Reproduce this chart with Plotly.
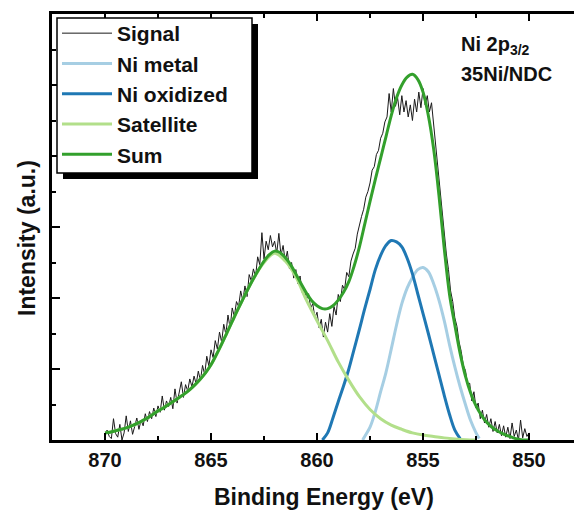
import numpy as np
import plotly.graph_objects as go

# ---------------- data ----------------
# Raw signal, 870.0 -> 850.0 eV in 0.1 eV steps
signal_start, signal_end = 870.0, 850.0
signal = [
    0.08, 0.14, 0.05, 0.02, 0.30, 0.09, 0.04, 0.22, 0.00, 0.10,
    0.34, 0.12, 0.27, 0.08, 0.19, 0.31, 0.15, 0.28, 0.20, 0.37,
    0.26, 0.40, 0.30, 0.45, 0.33, 0.48, 0.39, 0.62, 0.42, 0.55,
    0.47, 0.60, 0.44, 0.72, 0.52, 0.66, 0.82, 0.60, 0.78, 0.69,
    0.86, 0.75, 0.90, 0.79, 0.97, 0.84, 1.05, 0.92, 1.18, 1.04,
    1.27, 1.16, 1.40, 1.28, 1.52, 1.38, 1.63, 1.49, 1.76, 1.58,
    1.86, 1.74, 1.95, 1.88, 2.10, 1.96, 2.17, 2.02, 2.33, 2.24,
    2.41, 2.30, 2.58, 2.47, 2.92, 2.55, 2.80, 2.68, 2.88, 2.72,
    2.80, 2.63, 2.91, 2.60, 2.74, 2.52, 2.66, 2.41, 2.50, 2.28,
    2.40, 2.20, 2.31, 2.08, 2.14, 1.98, 2.06, 1.86, 1.92, 1.72,
    1.80, 1.58, 1.70, 1.45, 1.66, 1.52, 1.78, 1.60, 1.88, 1.76,
    2.05, 1.95, 2.18, 2.12, 2.36, 2.30, 2.52, 2.62, 2.70, 2.90,
    3.05, 3.15, 3.25, 3.42, 3.50, 3.62, 3.80, 3.85, 4.02, 4.08,
    4.25, 4.32, 4.48, 4.55, 4.88, 4.62, 4.95, 4.70, 4.82, 4.58,
    4.85, 4.62, 4.78, 4.55, 4.72, 4.50, 4.80, 4.62, 4.90, 4.68,
    4.95, 4.72, 4.85, 4.62, 4.75, 4.45, 4.12, 3.80, 3.48, 3.20,
    2.95, 2.62, 2.40, 2.10, 1.95, 1.72, 1.60, 1.38, 1.25, 1.05,
    0.98, 0.78, 0.80, 0.55, 0.68, 0.45, 0.52, 0.30, 0.42, 0.24,
    0.36, 0.18, 0.30, 0.12, 0.26, 0.10, 0.22, 0.06, 0.20, 0.04,
    0.18, 0.02, 0.24, 0.05, 0.14, 0.00, 0.28, 0.03, 0.16, 0.05,
    0.10,
]
signal_be = np.linspace(signal_start, signal_end, len(signal))

ni_metal_be = [857.85, 857.75, 857.5, 857.25, 857.0, 856.75, 856.5, 856.25, 856.0,
               855.75, 855.5, 855.25, 855.0, 854.75, 854.5, 854.25, 854.0, 853.75,
               853.5, 853.25, 853.0, 852.75, 852.5, 852.35]
ni_metal = [0.0, 0.05, 0.18, 0.40, 0.68, 0.95, 1.28, 1.62, 1.92,
            2.14, 2.29, 2.40, 2.43, 2.37, 2.20, 1.97, 1.68, 1.34,
            1.03, 0.75, 0.50, 0.27, 0.10, 0.02]

ni_ox_be = [859.75, 859.5, 859.25, 859.0, 858.75, 858.5, 858.25, 858.0, 857.75,
            857.5, 857.25, 857.0, 856.75, 856.5, 856.25, 856.0, 855.75, 855.5,
            855.25, 855.0, 854.75, 854.5, 854.25, 854.0, 853.75, 853.5, 853.25]
ni_ox = [0.0, 0.10, 0.31, 0.54, 0.76, 1.00, 1.28, 1.56, 1.85,
         2.12, 2.40, 2.60, 2.74, 2.81, 2.79, 2.72, 2.56, 2.34,
         2.06, 1.78, 1.50, 1.21, 0.92, 0.63, 0.36, 0.14, 0.02]

sat_be = [870.0, 869.5, 869.0, 868.5, 868.0, 867.5, 867.0, 866.5, 866.0, 865.5,
          865.0, 864.5, 864.0, 863.5, 863.0, 862.5, 862.0, 861.5, 861.0, 860.5,
          860.0, 859.5, 859.0, 858.5, 858.0, 857.5, 857.0, 856.5, 856.0, 855.5,
          855.0, 854.5, 854.0, 853.5, 853.0, 852.5]
satellite = [0.10, 0.13, 0.17, 0.23, 0.31, 0.41, 0.50, 0.60, 0.71, 0.86,
             1.06, 1.35, 1.67, 1.98, 2.27, 2.50, 2.63, 2.52, 2.30, 1.97,
             1.68, 1.40, 1.10, 0.84, 0.61, 0.43, 0.30, 0.21, 0.15, 0.10,
             0.07, 0.05, 0.03, 0.015, 0.005, 0.0]

sum_start, sum_end = 870.0, 850.0
sum_fit = [0.10, 0.11, 0.13, 0.15, 0.17, 0.20, 0.23, 0.27, 0.31, 0.36,
           0.41, 0.45, 0.50, 0.55, 0.60, 0.65, 0.71, 0.78, 0.86, 0.95,
           1.06, 1.20, 1.35, 1.51, 1.67, 1.83, 1.98, 2.13, 2.27, 2.40,
           2.52, 2.61, 2.66, 2.64, 2.57, 2.47, 2.34, 2.20, 2.07, 1.96,
           1.89, 1.85, 1.85, 1.89, 1.97, 2.08, 2.23, 2.45, 2.72, 3.04,
           3.36, 3.67, 3.97, 4.27, 4.57, 4.82, 5.00, 5.11, 5.15, 5.08,
           4.90, 4.57, 4.10, 3.45, 2.70, 2.05, 1.62, 1.22, 0.90, 0.66,
           0.48, 0.35, 0.25, 0.18, 0.13, 0.09, 0.06, 0.03, 0.01, 0.0,
           0.0]
sum_be = np.linspace(sum_start, sum_end, len(sum_fit))

x_ticks = [870, 865, 860, 855, 850]

# ---------------- figure ----------------
FONT = "Arial, Liberation Sans, sans-serif"
C_SIGNAL = "#1a1a1a"
C_METAL = "#a6cee3"
C_OX = "#1f78b4"
C_SAT = "#b2df8a"
C_SUM = "#33a02c"

fig = go.Figure()
fig.add_trace(go.Scatter(x=signal_be, y=signal, mode="lines", name="Signal",
                         line=dict(color=C_SIGNAL, width=1)))
fig.add_trace(go.Scatter(x=ni_metal_be, y=ni_metal, mode="lines", name="Ni metal",
                         line=dict(color=C_METAL, width=3, shape="spline")))
fig.add_trace(go.Scatter(x=ni_ox_be, y=ni_ox, mode="lines", name="Ni oxidized",
                         line=dict(color=C_OX, width=3, shape="spline")))
fig.add_trace(go.Scatter(x=sat_be, y=satellite, mode="lines", name="Satellite",
                         line=dict(color=C_SAT, width=3, shape="spline")))
fig.add_trace(go.Scatter(x=sum_be, y=sum_fit, mode="lines", name="Sum",
                         line=dict(color=C_SUM, width=3, shape="spline")))

x_range = [872.5, 847.88]
common_x = dict(range=x_range, showline=True, linecolor="black", linewidth=2.5,
                ticks="inside", ticklen=7, tickwidth=2, tickcolor="black",
                tickvals=x_ticks, showgrid=False, zeroline=False,
                minor=dict(dtick=2.5, tick0=850, ticks="inside", ticklen=4,
                           tickwidth=2, tickcolor="black", showgrid=False))

PL, PT, PW, PH = 52, 14, 522, 426   # plot area in pixels


def px(x):
    return (x - PL) / PW


def py(y):
    return (PT + PH - y) / PH


fig.update_layout(
    width=574, height=514,
    margin=dict(l=PL, r=0, t=PT, b=514 - PT - PH),
    paper_bgcolor="white", plot_bgcolor="white",
    font=dict(family=FONT, color="black"),
    showlegend=True,
    xaxis=dict(**common_x, ticktext=[str(v) for v in x_ticks],
               tickfont=dict(family=FONT, size=20, color="#111", weight="bold"),
               ticklabelstandoff=0),
    xaxis2=dict(**common_x, overlaying="x", side="top", showticklabels=False,
                matches="x"),
    yaxis=dict(range=[0, 6], showline=True, linecolor="black", linewidth=2.5,
               ticks="inside", ticklen=8, tickwidth=2, tickcolor="black",
               dtick=1, tick0=0, showticklabels=False, showgrid=False,
               zeroline=False,
               minor=dict(dtick=0.5, ticks="inside", ticklen=4, tickwidth=2,
                          tickcolor="black", showgrid=False)),
    legend=dict(x=px(57), y=py(13), xanchor="left", yanchor="top",
                bgcolor="rgba(0,0,0,0)", borderwidth=0,
                font=dict(family=FONT, size=21, color="#111", weight="bold"),
                itemwidth=50, tracegroupgap=0),
)
# dummy trace to activate top axis
fig.add_trace(go.Scatter(x=[860], y=[None], xaxis="x2", showlegend=False,
                         hoverinfo="skip"))

# legend frame with drop shadow
fig.add_shape(type="rect", xref="paper", yref="paper",
              x0=px(63), x1=px(258), y0=py(179), y1=py(24),
              fillcolor="black", line=dict(width=0), layer="above")
fig.add_shape(type="rect", xref="paper", yref="paper",
              x0=px(57), x1=px(252), y0=py(173), y1=py(18),
              fillcolor="white", line=dict(color="black", width=1.5),
              layer="above")

annos = [
    dict(text="<b>Binding Energy (eV)</b>", x=324, y=497, size=23),
    dict(text="<b>Intensity (a.u.)</b>", x=27, y=238, size=23, angle=-90),
    dict(text="<b>Ni 2p<sub>3/2</sub></b>", x=459, y=45, size=20, anchor="left"),
    dict(text="<b>35Ni/NDC</b>", x=459, y=74, size=20, anchor="left"),
]
for a in annos:
    fig.add_annotation(text=a["text"], xref="paper", yref="paper",
                       x=px(a["x"]), y=py(a["y"]),
                       xanchor=a.get("anchor", "center"), yanchor="middle",
                       showarrow=False, textangle=a.get("angle", 0),
                       font=dict(family=FONT, size=a["size"], color="#111"))

fig.write_html("out.html")
